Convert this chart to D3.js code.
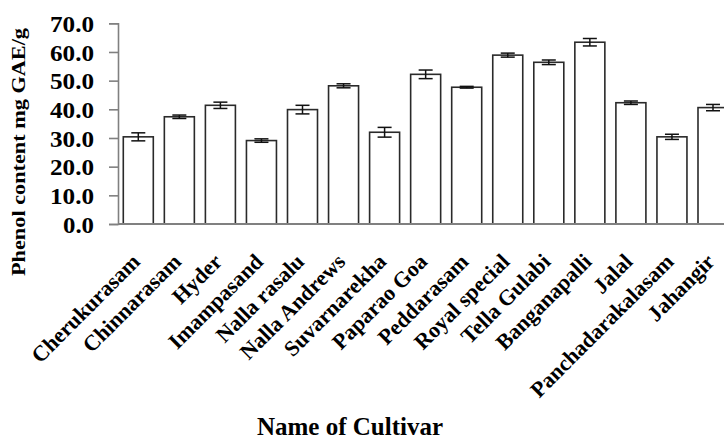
<!DOCTYPE html>
<html>
<head>
<meta charset="utf-8">
<script src="https://cdn.jsdelivr.net/npm/d3@7"></script>
<style>
  html, body { margin: 0; padding: 0; background: #fff; }
  svg { display: block; }
  text { font-family: "Liberation Serif", "Times New Roman", serif; font-weight: bold; fill: #000; }
</style>
</head>
<body>
<svg id="chart" width="724" height="441"></svg>
<script>
const cultivars = ["Cherukurasam", "Chinnarasam", "Hyder", "Imampasand", "Nalla rasalu", "Nalla Andrews", "Suvarnarekha", "Paparao Goa", "Peddarasam", "Royal special", "Tella Gulabi", "Banganapalli", "Jalal", "Panchadarakalasam", "Jahangir"];
const phenol = [30.4, 37.4, 41.4, 29.1, 39.9, 48.2, 32.0, 52.2, 47.7, 58.9, 56.4, 63.4, 42.3, 30.4, 40.6];
const errors = [1.4, 0.6, 1.1, 0.6, 1.5, 0.7, 1.7, 1.5, 0.3, 0.7, 0.8, 1.3, 0.6, 0.9, 1.1];
const yTicks = [0, 10, 20, 30, 40, 50, 60, 70];
const yTitle = "Phenol content mg GAE/g";
const xTitle = "Name of Cultivar";

const svg = d3.select("#chart");
const x0 = 118, y0 = 224, yTop = 23.3;

const x = d3.scaleBand().domain(cultivars).range([x0, 733.3]).paddingInner(0.269).paddingOuter(0.129);
const y = d3.scaleLinear().domain([0, 70]).range([y0, yTop]);

const data = cultivars.map((c, i) => ({ c, v: phenol[i], e: errors[i] }));

// bars
svg.append("g").selectAll("rect").data(data).join("rect")
  .attr("x", d => x(d.c))
  .attr("y", d => y(d.v))
  .attr("width", x.bandwidth())
  .attr("height", d => y0 - y(d.v))
  .attr("fill", "#fff")
  .attr("stroke", "#2a2a2a")
  .attr("stroke-width", 1.6);

// error bars
const eg = svg.append("g").attr("stroke", "#111").attr("stroke-width", 1.5).attr("fill", "none");
const cap = 7;
data.forEach(d => {
  const cx = x(d.c) + x.bandwidth() / 2;
  eg.append("line").attr("x1", cx).attr("x2", cx).attr("y1", y(d.v + d.e)).attr("y2", y(d.v - d.e));
  eg.append("line").attr("x1", cx - cap).attr("x2", cx + cap).attr("y1", y(d.v + d.e)).attr("y2", y(d.v + d.e));
  eg.append("line").attr("x1", cx - cap).attr("x2", cx + cap).attr("y1", y(d.v - d.e)).attr("y2", y(d.v - d.e));
});

// y axis
const yAxis = d3.axisLeft(y).tickValues(yTicks).tickFormat(d3.format(".1f")).tickSize(9).tickPadding(15);
const ya = svg.append("g").attr("transform", `translate(${x0},0)`).call(yAxis);
ya.select(".domain").attr("stroke", "#808080").attr("stroke-width", 1.6);
ya.selectAll(".tick line").attr("stroke", "#808080").attr("stroke-width", 1.6);
ya.selectAll(".tick text").attr("font-size", "24px").attr("fill", "#000")
  .attr("dy", "0.34em")
  .attr("textLength", d => d3.format(".1f")(d).length === 3 ? 31 : 44)
  .attr("lengthAdjust", "spacingAndGlyphs");

// x axis line
const xAxis = d3.axisBottom(x).tickSize(0).tickFormat("");
const xa = svg.append("g").attr("transform", `translate(0,${y0})`).call(xAxis);
xa.select(".domain").attr("stroke", "#808080").attr("stroke-width", 2).attr("d", `M${x0},0H724`);

// x labels rotated
svg.append("g").selectAll("text").data(cultivars).join("text")
  .attr("transform", d => `translate(${x(d) + x.bandwidth() / 2 + 3},${y0 + 39}) rotate(-45)`)
  .attr("text-anchor", "end")
  .attr("font-size", "22px")
  .text(d => d);

// y title
svg.append("text")
  .attr("transform", `translate(25,152) rotate(-90)`)
  .attr("text-anchor", "middle")
  .attr("font-size", "18px")
  .attr("textLength", 248)
  .attr("lengthAdjust", "spacingAndGlyphs")
  .text(yTitle);

// x title
svg.append("text")
  .attr("x", 350).attr("y", 435)
  .attr("text-anchor", "middle")
  .attr("font-size", "25px")
  .text(xTitle);
</script>
</body>
</html>
